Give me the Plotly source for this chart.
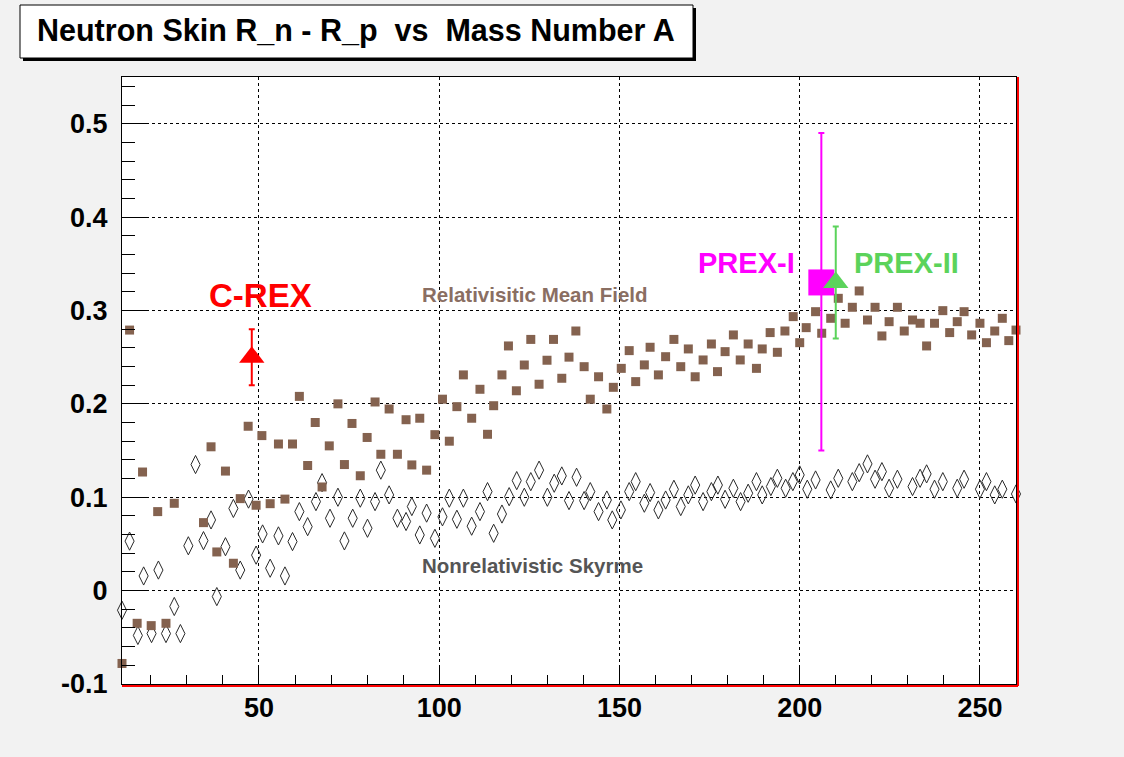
import plotly.graph_objects as go

# ---------------- data ----------------
rmf_A = [12.0, 14.1, 16.2, 17.7, 20.1, 21.9, 24.2, 26.5, 34.6, 36.7, 38.3, 40.7, 42.9, 44.8,
         47.0, 49.2, 50.8, 53.1, 55.4, 57.2, 59.3, 61.2, 63.5, 65.6, 67.5, 69.5, 71.9, 73.7,
         75.8, 78.1, 80.0, 82.2, 83.8, 86.1, 88.4, 90.8, 92.4, 94.6, 96.5, 98.8, 100.9, 102.8,
         104.9, 106.7, 109.0, 111.3, 113.4, 115.1, 117.4, 119.2, 121.4, 123.6, 125.4, 127.7,
         129.9, 131.7, 134.0, 136.0, 137.9, 140.2, 141.9, 144.2, 146.5, 148.3, 150.5, 152.7,
         154.5, 156.9, 158.5, 160.8, 162.8, 165.1, 167.0, 169.1, 171.0, 173.2, 175.5, 177.2,
         179.3, 181.6, 183.5, 185.7, 188.0, 189.6, 191.8, 193.8, 195.9, 198.2, 200.0, 201.8,
         204.4, 206.1, 208.6, 210.7, 212.6, 214.6, 216.5, 218.8, 220.9, 222.8, 224.8, 227.1,
         229.0, 231.3, 233.4, 235.2, 237.4, 239.7, 241.6, 243.7, 245.6, 247.7, 250.0, 251.8,
         254.1, 256.2, 258.0, 260.0]
rmf_skin = [-0.078, 0.279, -0.035, 0.127, -0.0375, 0.0846, -0.035, 0.0935, 0.0728, 0.154, 0.0414,
            0.128, 0.0293, 0.0985, 0.176, 0.0914, 0.166, 0.0931, 0.157, 0.098, 0.157, 0.208, 0.134,
            0.180, 0.111, 0.155, 0.200, 0.135, 0.179, 0.123, 0.164, 0.202, 0.146, 0.1945, 0.146,
            0.183, 0.1346, 0.1846, 0.129, 0.167, 0.205, 0.160, 0.197, 0.231, 0.1846, 0.2156,
            0.1674, 0.198, 0.231, 0.262, 0.214, 0.2416, 0.269, 0.221, 0.2467, 0.269, 0.2274, 0.250,
            0.278, 0.2398, 0.205, 0.229, 0.1945, 0.2177, 0.238, 0.257, 0.2238, 0.2417, 0.2606,
            0.231, 0.2505, 0.269, 0.2398, 0.2588, 0.229, 0.247, 0.2641, 0.2345, 0.2559, 0.2738,
            0.247, 0.2641, 0.238, 0.2588, 0.2763, 0.2552, 0.278, 0.2934, 0.2655, 0.2816, 0.2987,
            0.2756, 0.2916, 0.313, 0.2863, 0.3034, 0.3209, 0.2898, 0.3034, 0.2727, 0.288, 0.3034,
            0.278, 0.2898, 0.2863, 0.262, 0.2863, 0.2998, 0.2763, 0.288, 0.2987, 0.2738, 0.2863,
            0.2655, 0.278, 0.2916, 0.2677, 0.279]

skm_A = [12.0, 14.1, 16.4, 18.0, 20.2, 22.1, 24.2, 26.5, 28.2, 30.4, 32.4, 34.6, 36.7, 38.3,
         40.7, 42.9, 44.8, 47.1, 49.2, 51.0, 53.1, 55.4, 57.2, 59.3, 61.2, 63.5, 65.8, 67.5,
         69.7, 71.9, 73.7, 76.0, 78.1, 80.1, 82.2, 83.8, 86.1, 88.4, 90.8, 92.4, 94.6, 96.5,
         98.8, 100.9, 102.8, 104.9, 106.7, 109.0, 111.3, 113.4, 115.1, 117.4, 119.4, 121.5,
         123.6, 125.4, 127.7, 130.0, 131.9, 134.0, 136.0, 138.1, 140.2, 141.9, 144.2, 146.5,
         148.0, 150.4, 152.7, 154.5, 156.9, 158.5, 160.8, 162.8, 165.1, 167.0, 169.1, 171.0,
         173.2, 175.5, 177.3, 179.3, 181.6, 183.6, 185.7, 188.0, 189.6, 192.0, 193.8, 196.1,
         198.1, 200.0, 202.1, 204.4, 208.6, 210.7, 214.6, 216.5, 218.8, 220.9, 222.8, 224.8,
         227.1, 231.3, 233.4, 235.2, 237.4, 239.7, 243.7, 245.6, 250.0, 251.8, 254.1, 256.2,
         260.0]
skm_skin = [-0.021, 0.053, -0.048, 0.0157, -0.046, 0.022, -0.046, -0.017, -0.046, 0.048, 0.135,
            0.0535, 0.0757, -0.0064, 0.047, 0.088, 0.022, 0.098, 0.038, 0.0607, 0.024, 0.0586,
            0.0157, 0.0525, 0.0846, 0.0685, 0.0953, 0.1156, 0.0775, 0.100, 0.0532, 0.0775, 0.099,
            0.0668, 0.0953, 0.129, 0.1025, 0.0775, 0.074, 0.09, 0.0596, 0.083, 0.056, 0.079, 0.099,
            0.0764, 0.099, 0.069, 0.0846, 0.106, 0.0614, 0.082, 0.1006, 0.1178, 0.100, 0.1167,
            0.129, 0.100, 0.115, 0.1228, 0.0964, 0.1214, 0.0964, 0.106, 0.0846, 0.097, 0.0757,
            0.0864, 0.106, 0.1167, 0.0936, 0.105, 0.0864, 0.097, 0.1085, 0.090, 0.1025, 0.113,
            0.0953, 0.106, 0.113, 0.0978, 0.1096, 0.0953, 0.1043, 0.1167, 0.1025, 0.1114, 0.1203,
            0.1096, 0.1167, 0.1239, 0.1086, 0.1185, 0.1078, 0.1203, 0.1167, 0.1263, 0.1357,
            0.1193, 0.1274, 0.1096, 0.1193, 0.1114, 0.1203, 0.125, 0.1086, 0.1167, 0.1096, 0.1193,
            0.1086, 0.1167, 0.1025, 0.1086, 0.1035]

crex_A = [48]
crex_skin = [0.25]
crex_err = [0.03]

prex1_A = [206]
prex1_skin = [0.33]
prex1_err_up = [0.16]
prex1_err_down = [0.18]

prex2_A = [210]
prex2_skin = [0.33]
prex2_err = [0.06]

x_ticks = [50, 100, 150, 200, 250]
y_ticks = [-0.1, 0, 0.1, 0.2, 0.3, 0.4, 0.5]
y_tick_labels = ["-0.1", "0", "0.1", "0.2", "0.3", "0.4", "0.5"]

title_text = "Neutron Skin R_n - R_p\u00a0\u00a0vs\u00a0\u00a0Mass Number A"

# ---------------- figure ----------------
FONT = "Liberation Sans, Arial, Helvetica, sans-serif"
W, H = 1124, 757
PL, PR, PT, PB = 122, 1016, 77, 684  # plot area in pixels
pw, ph = PR - PL, PB - PT


def px2paper(x, y):
    return (x - PL) / pw, (PB - y) / ph


fig = go.Figure()

fig.add_trace(go.Scatter(
    x=skm_A, y=skm_skin, mode="markers", cliponaxis=False,
    marker=dict(symbol="diamond-tall-open", size=13, color="#2a2a2a", line=dict(width=1, color="#2a2a2a")),
))
fig.add_trace(go.Scatter(
    x=rmf_A, y=rmf_skin, mode="markers", cliponaxis=False,
    marker=dict(symbol="square", size=9, color="#84624f", line=dict(width=0)),
))
fig.add_trace(go.Scatter(
    x=crex_A, y=crex_skin, mode="markers", cliponaxis=False,
    marker=dict(symbol="triangle-up", size=22, color="#ff0000", line=dict(width=0)),
    error_y=dict(type="data", array=crex_err, color="#ff0000", thickness=2, width=3),
))
fig.add_trace(go.Scatter(
    x=prex1_A, y=prex1_skin, mode="markers", cliponaxis=False,
    marker=dict(symbol="square", size=26, color="#ff00ff", line=dict(width=0)),
    error_y=dict(type="data", symmetric=False, array=prex1_err_up, arrayminus=prex1_err_down,
                 color="#ff00ff", thickness=2, width=3),
))
fig.add_trace(go.Scatter(
    x=prex2_A, y=prex2_skin, mode="markers", cliponaxis=False,
    marker=dict(symbol="triangle-up", size=22, color="#5bd35b", line=dict(width=0)),
    error_y=dict(type="data", array=prex2_err, color="#5bd35b", thickness=2, width=3),
))

axis_common = dict(
    showline=True, linecolor="black", linewidth=1, mirror=True,
    ticks="inside", tickcolor="black", tickwidth=1,
    showgrid=True, gridcolor="black", gridwidth=1, griddash="dot",
    zeroline=False,
    tickfont=dict(family=FONT, size=27, color="black", weight="bold"),
)

fig.update_xaxes(
    range=[12, 260], tickmode="array", tickvals=x_ticks, ticklen=18,
    ticklabelstandoff=0,
    minor=dict(tick0=0, dtick=10, ticks="inside", ticklen=9, tickcolor="black", showgrid=False),
    **axis_common,
)
fig.update_yaxes(
    range=[-0.1, 0.55], tickmode="array", tickvals=y_ticks, ticktext=y_tick_labels, ticklen=27,
    ticklabelstandoff=8,
    minor=dict(tick0=0, dtick=0.02, ticks="inside", ticklen=13, tickcolor="black", showgrid=False),
    **axis_common,
)

shapes = []
# title box shadow and box
sx0, sy0 = px2paper(23, 8)
sx1, sy1 = px2paper(696, 61)
shapes.append(dict(type="rect", xref="paper", yref="paper", x0=sx0, x1=sx1, y0=sy1, y1=sy0,
                   fillcolor="black", line=dict(width=0), layer="above"))
bx0, by0 = px2paper(20, 5)
bx1, by1 = px2paper(693, 58)
shapes.append(dict(type="rect", xref="paper", yref="paper", x0=bx0, x1=bx1, y0=by1, y1=by0,
                   fillcolor="white", line=dict(width=1, color="black"), layer="above"))
# red frame lines (bottom and right)
rx, ry = 2 / pw, 2 / ph
shapes.append(dict(type="line", xref="paper", yref="paper", x0=0, x1=1 + rx, y0=-ry, y1=-ry,
                   line=dict(color="#ff0000", width=2), layer="above"))
shapes.append(dict(type="line", xref="paper", yref="paper", x0=1 + rx, x1=1 + rx, y0=-ry, y1=1,
                   line=dict(color="#ff0000", width=2), layer="above"))

tx, ty = px2paper(356, 31)
annotations = [
    dict(x=tx, y=ty, xref="paper", yref="paper", text=title_text, showarrow=False,
         xanchor="center", yanchor="middle",
         font=dict(family=FONT, size=30.5, color="black", weight="bold")),
    dict(x=50.5, y=0.316, xref="x", yref="y", text="C-REX", showarrow=False,
         xanchor="center", yanchor="middle",
         font=dict(family=FONT, size=33, color="#ff0000", weight="bold")),
    dict(x=185.2, y=0.351, xref="x", yref="y", text="PREX-I", showarrow=False,
         xanchor="center", yanchor="middle",
         font=dict(family=FONT, size=29, color="#ff00ff", weight="bold")),
    dict(x=229.5, y=0.351, xref="x", yref="y", text="PREX-II", showarrow=False,
         xanchor="center", yanchor="middle",
         font=dict(family=FONT, size=29, color="#5bd35b", weight="bold")),
    dict(x=126.5, y=0.3175, xref="x", yref="y", text="Relativisitic Mean Field", showarrow=False,
         xanchor="center", yanchor="middle",
         font=dict(family=FONT, size=20.5, color="#8a6e62", weight="bold")),
    dict(x=126, y=0.027, xref="x", yref="y", text="Nonrelativistic Skyrme", showarrow=False,
         xanchor="center", yanchor="middle",
         font=dict(family=FONT, size=20.5, color="#555555", weight="bold")),
]

fig.update_layout(
    width=W, height=H,
    margin=dict(l=PL, r=W - PR, t=PT, b=H - PB, pad=0),
    paper_bgcolor="#f2f2f2", plot_bgcolor="white",
    showlegend=False,
    shapes=shapes, annotations=annotations,
)

fig.write_html("out.html")
